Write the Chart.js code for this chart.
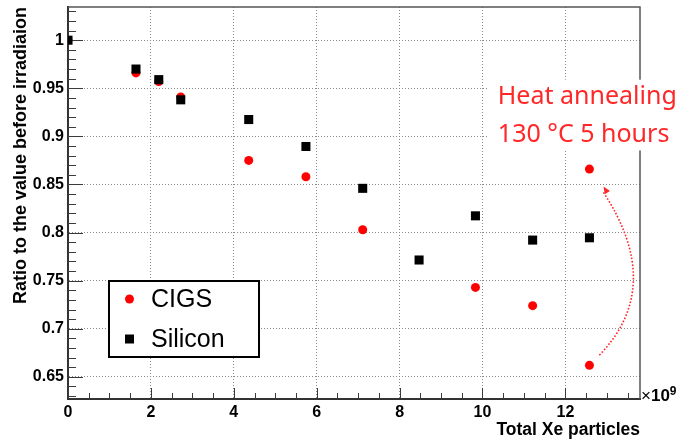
<!DOCTYPE html>
<html>
<head>
<meta charset="utf-8">
<script src="https://cdn.jsdelivr.net/npm/chart.js@4/dist/chart.umd.min.js"></script>
<style>
  html, body { margin: 0; padding: 0; background: #fff; }
  #wrap { width: 682px; height: 439px; position: relative; }
</style>
</head>
<body>
<div id="wrap"><canvas id="c"></canvas></div>
<script>
// Total Xe particles (in units of 1e9) and normalised output ratio
const siliconX     = [0, 1.64, 2.19, 2.72, 4.36, 5.74, 7.11, 8.47, 9.83, 11.21, 12.58];
const siliconRatio = [1.0, 0.970, 0.959, 0.938, 0.9175, 0.8895, 0.846, 0.7715, 0.8174, 0.7922, 0.7946];
const cigsX        = [0, 1.64, 2.19, 2.72, 4.36, 5.74, 7.11, 9.83, 11.21, 12.58, 12.58];
const cigsRatio    = [1.0, 0.966, 0.957, 0.941, 0.875, 0.858, 0.803, 0.743, 0.724, 0.662, 0.866];

const seriesNames  = ['CIGS', 'Silicon'];
const xTicks       = [0, 2, 4, 6, 8, 10, 12];
const xTickLabels  = ['0', '2', '4', '6', '8', '10', '12'];
const yTicks       = [0.65, 0.7, 0.75, 0.8, 0.85, 0.9, 0.95, 1];
const yTickLabels  = ['0.65', '0.7', '0.75', '0.8', '0.85', '0.9', '0.95', '1'];
const xTitle       = 'Total Xe particles';
const yTitle       = 'Ratio to the value before irradiaion';
const noteLines    = ['Heat annealing', '130 °C 5 hours'];

const X_MIN = 0, X_MAX = 13.8, Y_MIN = 0.627, Y_MAX = 1.0345;
const AXIS_FONT = "'Liberation Sans', Arial, Helvetica, sans-serif";

const toPoints = (xs, ys) => xs.map((x, i) => ({ x, y: ys[i] }));

// Inner tick marks, frame, legend box and the annealing note
const decorations = {
  id: 'decorations',
  beforeDatasetsDraw(chart) {
    const { ctx, chartArea: a, scales: { x, y } } = chart;
    ctx.save();
    ctx.strokeStyle = '#3a3a3a';
    ctx.lineWidth = 1;
    ctx.beginPath();
    // x axis: majors every 2, minors every 0.5 (pointing up)
    for (let k = 0; X_MIN + k * 0.5 <= X_MAX + 1e-9; k++) {
      const v = X_MIN + k * 0.5;
      const px = Math.round(x.getPixelForValue(v)) + 0.5;
      const len = (k % 4 === 0) ? 11 : 6;
      ctx.moveTo(px, a.bottom);
      ctx.lineTo(px, a.bottom - len);
    }
    // y axis: majors every 0.05, minors every 0.01 (pointing right)
    for (let k = Math.ceil(Y_MIN * 100); k <= Math.floor(Y_MAX * 100); k++) {
      const py = Math.round(y.getPixelForValue(k / 100)) + 0.5;
      const len = (k % 5 === 0) ? 15 : 8;
      ctx.moveTo(a.left, py);
      ctx.lineTo(a.left + len, py);
    }
    ctx.stroke();
    ctx.restore();
  },
  afterDatasetsDraw(chart) {
    const { ctx, chartArea: a, scales: { x, y } } = chart;
    ctx.save();
    // top and right frame
    ctx.strokeStyle = '#555';
    ctx.lineWidth = 1.5;
    ctx.beginPath();
    ctx.moveTo(a.left, a.top);
    ctx.lineTo(a.right, a.top);
    ctx.lineTo(a.right, a.bottom);
    ctx.stroke();

    // legend box
    const lx0 = 109, ly0 = 281, lx1 = 259, ly1 = 357;
    ctx.fillStyle = '#fff';
    ctx.fillRect(lx0, ly0, lx1 - lx0, ly1 - ly0);
    ctx.strokeStyle = '#000';
    ctx.lineWidth = 2;
    ctx.strokeRect(lx0, ly0, lx1 - lx0, ly1 - ly0);
    const ds = chart.data.datasets;
    const rowsY = [299, 339];
    ds.forEach((d, i) => {
      const cy = rowsY[i];
      ctx.fillStyle = d.backgroundColor;
      if (d.pointStyle === 'rect') {
        ctx.fillRect(129.5 - 4.5, cy - 4.5, 9, 9);
      } else {
        ctx.beginPath();
        ctx.arc(129.5, cy, 4.5, 0, Math.PI * 2);
        ctx.fill();
      }
      ctx.fillStyle = '#000';
      ctx.font = "25px " + AXIS_FONT;
      ctx.textBaseline = 'middle';
      ctx.textAlign = 'left';
      ctx.fillText(d.label, 151, cy + 1);
    });

    // exponent label at the end of the x axis
    ctx.fillStyle = '#000';
    ctx.textBaseline = 'alphabetic';
    ctx.font = "17px " + AXIS_FONT;
    ctx.fillText('×', a.right + 1, a.bottom + 2);
    let w = ctx.measureText('×').width;
    ctx.font = "bold 17px " + AXIS_FONT;
    ctx.fillText('10', a.right + 1 + w, a.bottom + 2);
    w += ctx.measureText('10').width;
    ctx.font = "bold 12px " + AXIS_FONT;
    ctx.fillText('9', a.right + 1 + w, a.bottom - 4);

    // annealing note on a white patch
    const bx = x.getPixelForValue(10.14), by0 = y.getPixelForValue(0.9589), by1 = y.getPixelForValue(0.8854);
    ctx.fillStyle = '#fff';
    ctx.fillRect(bx, by0, chart.width - bx, by1 - by0);
    ctx.fillStyle = 'rgb(255,40,40)';
    ctx.font = "25px 'Noto Sans', 'Open Sans', sans-serif";
    ctx.textBaseline = 'middle';
    ctx.textAlign = 'left';
    const tx = x.getPixelForValue(10.37);
    ctx.fillText(noteLines[0], tx, y.getPixelForValue(0.9406));
    ctx.fillText(noteLines[1], tx, y.getPixelForValue(0.902));

    // dotted curved arrow from the irradiated point to the annealed one
    const p0 = { x: x.getPixelForValue(12.82), y: y.getPixelForValue(0.6725) };
    const c  = { x: x.getPixelForValue(14.41), y: y.getPixelForValue(0.7436) };
    const p2 = { x: x.getPixelForValue(12.92), y: y.getPixelForValue(0.848) };
    ctx.strokeStyle = 'rgb(255,40,40)';
    ctx.lineWidth = 1.6;
    ctx.setLineDash([1.6, 1.8]);
    ctx.beginPath();
    ctx.moveTo(p0.x, p0.y);
    ctx.quadraticCurveTo(c.x, c.y, p2.x, p2.y + 6);
    ctx.stroke();
    ctx.setLineDash([]);
    const ang = Math.atan2(p2.y - c.y, p2.x - c.x);
    ctx.fillStyle = 'rgb(255,40,40)';
    ctx.beginPath();
    ctx.moveTo(p2.x, p2.y);
    ctx.lineTo(p2.x - 8 * Math.cos(ang - 0.4), p2.y - 8 * Math.sin(ang - 0.4));
    ctx.lineTo(p2.x - 8 * Math.cos(ang + 0.4), p2.y - 8 * Math.sin(ang + 0.4));
    ctx.closePath();
    ctx.fill();
    ctx.restore();
  }
};

new Chart(document.getElementById('c'), {
  type: 'scatter',
  data: {
    datasets: [
      {
        label: seriesNames[0],
        data: toPoints(cigsX, cigsRatio),
        backgroundColor: '#ff0000',
        borderWidth: 0,
        pointStyle: 'circle',
        pointRadius: 4.5,
        order: 1
      },
      {
        label: seriesNames[1],
        data: toPoints(siliconX, siliconRatio),
        backgroundColor: '#000000',
        borderWidth: 0,
        pointStyle: 'rect',
        pointRadius: 6.4,
        order: 0
      }
    ]
  },
  options: {
    responsive: true,
    maintainAspectRatio: false,
    animation: false,
    layout: { padding: { left: 0, top: 7, right: 42, bottom: 0 } },
    plugins: { legend: { display: false }, tooltip: { enabled: false } },
    scales: {
      x: {
        type: 'linear',
        min: X_MIN, max: X_MAX,
        afterFit: s => { s.height = 40; s.paddingLeft = 0; s.paddingRight = 0; },
        afterBuildTicks: s => { s.ticks = xTicks.map(v => ({ value: v })); },
        ticks: {
          padding: 4,
          color: '#000',
          font: { family: AXIS_FONT, size: 16, weight: 'bold' },
          callback: (v) => xTickLabels[xTicks.indexOf(v)]
        },
        grid: { color: '#8a8a8a', lineWidth: 1, drawTicks: false },
        border: { display: true, color: '#333', width: 2, dash: [1, 2] },
        title: {
          display: true, text: xTitle, align: 'end', color: '#000',
          font: { family: AXIS_FONT, size: 17.5, weight: 'bold', lineHeight: 1 },
          padding: { top: 0, bottom: 0 }
        }
      },
      y: {
        type: 'linear',
        min: Y_MIN, max: Y_MAX,
        afterFit: s => { s.width = 68; s.paddingTop = 0; s.paddingBottom = 0; },
        afterBuildTicks: s => { s.ticks = yTicks.map(v => ({ value: v })); },
        ticks: {
          padding: 4,
          color: '#000',
          font: { family: AXIS_FONT, size: 16, weight: 'bold' },
          callback: (v) => yTickLabels[yTicks.indexOf(v)]
        },
        grid: { color: '#8a8a8a', lineWidth: 1, drawTicks: false },
        border: { display: true, color: '#333', width: 2, dash: [1, 2] },
        title: {
          display: true, text: yTitle, align: 'end', color: '#000',
          font: { family: AXIS_FONT, size: 18, weight: 'bold', lineHeight: 1.2 },
          padding: { top: 10, bottom: 0 }
        }
      }
    }
  },
  plugins: [decorations]
});
</script>
</body>
</html>
